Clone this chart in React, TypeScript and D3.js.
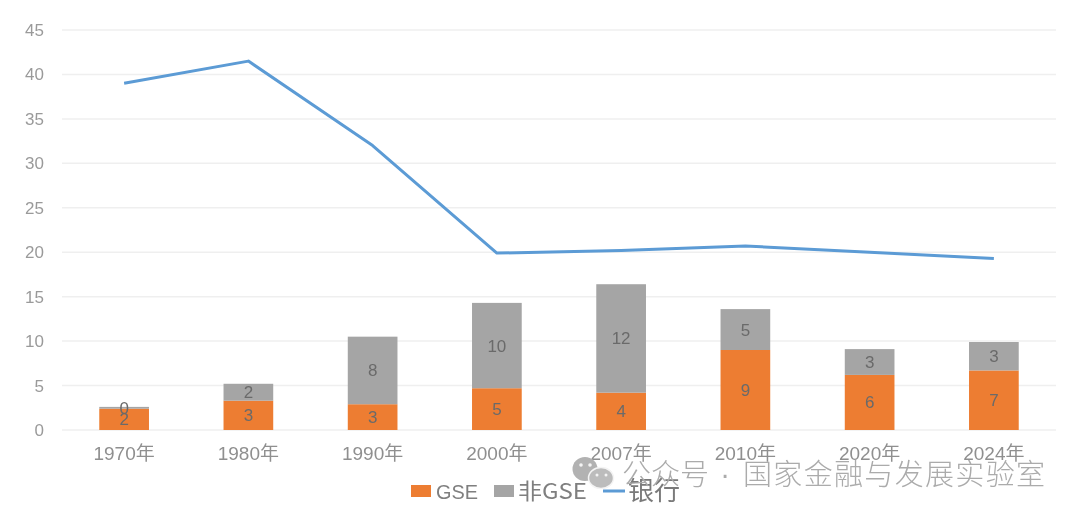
import React from 'react';
import * as d3 from 'd3';

const categories = ['1970年', '1980年', '1990年', '2000年', '2007年', '2010年', '2020年', '2024年'];
const gse = [2.4, 3.3, 2.9, 4.7, 4.2, 9.0, 6.2, 6.7];
const nonGse = [0.2, 1.9, 7.6, 9.6, 12.2, 4.6, 2.9, 3.2];
const bank = [39, 41.5, 32, 19.9, 20.2, 20.7, 20, 19.3];
const yTicks = [0, 5, 10, 15, 20, 25, 30, 35, 40, 45];

const width = 1080;
const height = 517;
const margin = { top: 30, right: 24, bottom: 87, left: 62 };

const x = d3.scaleBand<string>()
  .domain(categories)
  .range([margin.left, width - margin.right])
  .paddingInner(0.6)
  .paddingOuter(0.3);

const y = d3.scaleLinear()
  .domain([0, 45])
  .range([height - margin.bottom, margin.top]);

const line = d3.line<number>()
  .x((_, i) => (x(categories[i]) as number) + x.bandwidth() / 2)
  .y(d => y(d));

const font = '"Noto Sans CJK SC", "Liberation Sans", sans-serif';
const narrow = '"Liberation Sans", "Noto Sans CJK SC", sans-serif';

export default function App() {
  const bw = x.bandwidth();
  return (
    <svg
      width={width}
      height={height}
      viewBox={`0 0 ${width} ${height}`}
      style={{ position: 'fixed', left: 0, top: 0, background: '#fff', fontFamily: font }}
    >
      <defs>
        <filter id="soft" x="-5%" y="-5%" width="110%" height="110%">
          <feGaussianBlur stdDeviation="0.7" />
        </filter>
      </defs>
      <g filter="url(#soft)">
        {/* grid */}
        {yTicks.map(t => (
          <line key={t} x1={margin.left} x2={width - margin.right} y1={y(t)} y2={y(t)} stroke="#efefef" strokeWidth={1.5} />
        ))}
        {yTicks.map(t => (
          <text key={t} x={44} y={y(t) + 6} textAnchor="end" fontSize={17} fontFamily={narrow} fill="#9a9a9a">{t}</text>
        ))}
        {categories.map(c => (
          <text key={c} x={(x(c) as number) + bw / 2} y={460} textAnchor="middle" fontSize={19} fontFamily={narrow} fill="#8f8f8f">{c}</text>
        ))}

        {/* stacked bars */}
        {categories.map((c, i) => (
          <g key={c}>
            <rect x={x(c)} width={bw} y={y(gse[i])} height={y(0) - y(gse[i])} fill="#ed7d31" />
            <rect x={x(c)} width={bw} y={y(gse[i] + nonGse[i])} height={y(0) - y(nonGse[i])} fill="#a5a5a5" />
            <text x={(x(c) as number) + bw / 2} y={y(gse[i] / 2) + 6} textAnchor="middle" fontSize={17} fontFamily={narrow} fill="#6a6a6a">
              {d3.format('.0f')(gse[i])}
            </text>
            <text x={(x(c) as number) + bw / 2} y={y(gse[i] + nonGse[i] / 2) + 6} textAnchor="middle" fontSize={17} fontFamily={narrow} fill="#6a6a6a">
              {d3.format('.0f')(nonGse[i])}
            </text>
          </g>
        ))}

        <path d={line(bank) as string} fill="none" stroke="#5b9bd5" strokeWidth={3} strokeLinejoin="round" />

        {/* legend */}
        <rect x={411} y={485} width={20} height={12} fill="#ed7d31" />
        <text x={436} y={499} fontSize={21} fontFamily={narrow} fill="#7f7f7f" textLength={42} lengthAdjust="spacingAndGlyphs">GSE</text>
        <rect x={494} y={485} width={20} height={12} fill="#a5a5a5" />
        <text x={518} y={499} fontSize={22} fill="#7f7f7f" textLength={69} lengthAdjust="spacingAndGlyphs">非GSE</text>
        <line x1={603} x2={625} y1={491} y2={491} stroke="#5b9bd5" strokeWidth={3} />
        <text x={628} y={500} fontSize={26} fill="#7a7a7a">银行</text>

        {/* watermark */}
        <ellipse cx={585} cy={469} rx={12.5} ry={12} fill="#b2b2b2" />
        <ellipse cx={601} cy={478} rx={12.5} ry={10.5} fill="#bcbcbc" stroke="#f4f4f4" strokeWidth={1.5} />
        <circle cx={581} cy={465} r={1.8} fill="#f4f4f4" />
        <circle cx={590} cy={465} r={1.8} fill="#f4f4f4" />
        <circle cx={597} cy={475} r={1.5} fill="#f4f4f4" />
        <circle cx={606} cy={475} r={1.5} fill="#f4f4f4" />
        <g fill="#ababab" fontSize={29} fontWeight={300}>
          <text x={622} y={485}>公众号</text>
          <text x={725} y={484} textAnchor="middle" fontFamily={narrow}>·</text>
          <text x={743} y={485} textLength={302} lengthAdjust="spacing">国家金融与发展实验室</text>
        </g>
      </g>
    </svg>
  );
}
